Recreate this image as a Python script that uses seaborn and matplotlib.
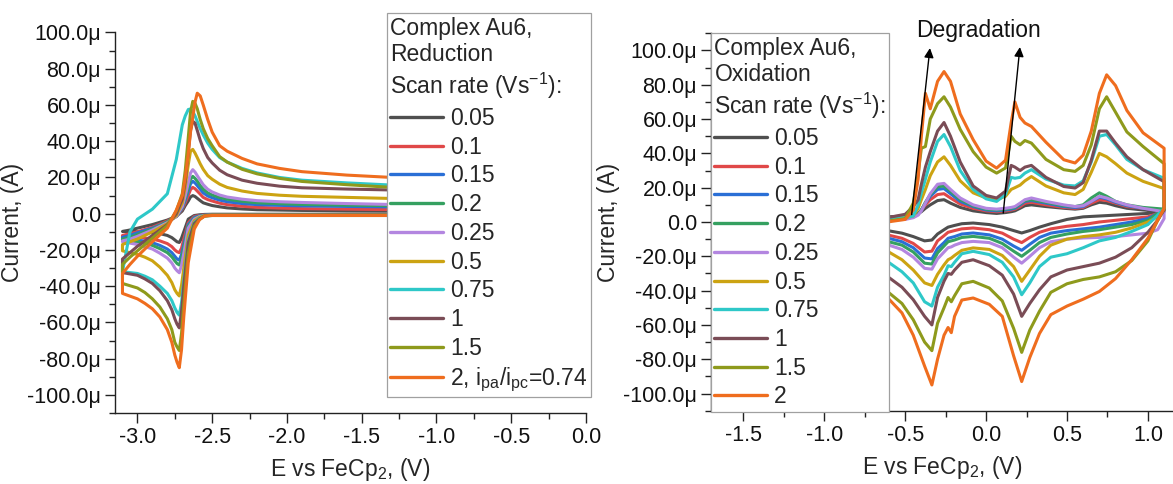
import matplotlib
matplotlib.use("Agg")
import numpy as np
import pandas as pd
import matplotlib.pyplot as plt
import seaborn as sns
from matplotlib.ticker import MultipleLocator, FuncFormatter

# Scan rates (V/s) and the colours used for both panels
rates = ["0.05", "0.1", "0.15", "0.2", "0.25", "0.5", "0.75", "1", "1.5", "2"]
colors = ["#4f4f4f", "#e04848", "#2a6fd6", "#35a060", "#b386e0",
          "#cca312", "#2ec8c8", "#7a4c56", "#8e9a1c", "#ef6d1e"]

# ---- Reduction panel: cathodic sweep (-1.25 -> -3.1 V), then anodic sweep back
red_E_cath = [-1.25, -2.4, -2.5, -2.55, -2.585, -2.62, -2.66, -2.69, -2.705, -2.72,
              -2.735, -2.75, -2.77, -2.8, -2.85, -2.9, -2.95, -3.0, -3.1]
red_I_cath = [
    [-0.3, -0.3, -0.3, -0.4, -0.6, -1.0, -3.0, -10.0, -13.5, -15.9, -15.5, -14.5, -13.2, -12.0, -11.0, -10.5, -10.2, -10.0, -9.8],
    [-0.5, -0.5, -0.5, -0.7, -1.0, -1.5, -5.0, -14.0, -19.0, -21.5, -21.0, -20.0, -18.2, -16.5, -15.0, -14.0, -13.4, -13.0, -12.5],
    [-0.6, -0.6, -0.6, -0.8, -1.2, -2.0, -6.0, -17.0, -22.5, -25.6, -25.0, -23.5, -21.5, -19.5, -17.5, -16.0, -15.2, -14.5, -13.5],
    [-0.7, -0.7, -0.7, -0.9, -1.4, -2.5, -7.0, -19.0, -25.0, -28.3, -27.5, -26.0, -23.8, -21.5, -19.3, -17.5, -16.4, -15.5, -14.5],
    [-0.8, -0.8, -0.8, -1.0, -1.6, -3.0, -8.0, -22.0, -28.5, -32.6, -31.5, -30.0, -27.2, -24.5, -21.8, -19.5, -18.2, -17.0, -15.5],
    [-0.8, -0.8, -0.8, -1.1, -2.0, -4.0, -12.0, -30.0, -39.5, -45.4, -44.0, -42.0, -38.0, -34.0, -29.5, -26.0, -24.0, -22.5, -20.5],
    [-1.0, -1.0, -1.0, -1.3, -2.5, -5.0, -15.0, -37.0, -49.0, -56.0, -54.5, -52.0, -48.0, -44.0, -40.0, -36.5, -34.5, -33.0, -32.0],
    [-0.8, -0.8, -0.8, -1.2, -2.8, -5.5, -16.0, -40.0, -54.0, -63.0, -61.0, -58.0, -53.0, -48.0, -42.5, -38.5, -36.0, -34.0, -32.5],
    [-0.9, -0.9, -0.9, -1.2, -3.2, -7.0, -22.0, -50.0, -66.0, -75.5, -73.5, -71.0, -64.0, -58.0, -51.5, -47.0, -43.5, -41.0, -38.5],
    [-1.0, -1.0, -1.0, -1.3, -3.3, -8.5, -27.0, -57.0, -75.0, -85.0, -82.0, -78.0, -71.0, -64.0, -57.0, -52.5, -49.5, -47.0, -44.0],
]
red_E_an = [-3.1, -3.05, -3.0, -2.9, -2.8, -2.74, -2.7, -2.68, -2.66, -2.645, -2.63, -2.615,
            -2.6, -2.58, -2.56, -2.53, -2.5, -2.45, -2.4, -2.3, -2.2, -2.05, -1.9, -1.6, -1.25]
red_I_an = [
    [-9.8, -9.0, -8.0, -6.0, -3.5, -1.5, 1.5, 4.5, 7.0, 9.2, 10.0, 9.5, 8.5, 7.2, 6.0, 5.2, 4.5, 3.8, 3.2, 2.6, 2.2, 2.0, 1.8, 1.6, 1.5],
    [-12.0, -11.0, -10.0, -7.5, -4.0, -1.5, 2.5, 6.0, 10.0, 13.3, 14.5, 13.8, 12.5, 10.8, 9.0, 7.8, 7.0, 5.8, 5.0, 4.1, 3.5, 3.1, 2.8, 2.5, 2.2],
    [-13.0, -12.0, -10.5, -8.0, -4.5, -1.5, 3.0, 7.5, 12.5, 16.5, 17.9, 17.0, 15.5, 13.5, 11.5, 9.8, 8.8, 7.5, 6.6, 5.6, 5.0, 4.6, 4.3, 4.0, 3.7],
    [-14.0, -13.0, -11.5, -8.5, -4.5, -1.5, 3.5, 8.5, 14.5, 19.0, 20.6, 19.5, 18.0, 15.5, 13.5, 11.5, 10.3, 8.9, 8.0, 6.8, 6.0, 5.5, 5.1, 4.7, 4.4],
    [-15.0, -14.0, -12.5, -9.0, -5.0, -1.5, 4.0, 10.0, 17.0, 22.5, 24.3, 23.0, 21.0, 18.5, 16.0, 13.5, 12.0, 10.3, 9.2, 8.0, 7.2, 6.6, 6.2, 5.6, 5.0],
    [-17.0, -15.5, -14.0, -10.0, -5.5, -1.0, 6.0, 15.0, 27.0, 34.5, 35.5, 33.5, 31.0, 27.5, 24.5, 21.0, 19.0, 16.3, 14.5, 12.5, 11.2, 10.2, 9.6, 9.0, 8.3],
    [-32.0, -10.0, -3.0, 2.5, 11.0, 30.0, 49.0, 54.0, 57.5, 57.8, 56.5, 54.0, 51.0, 47.0, 43.5, 39.0, 35.5, 31.0, 28.5, 25.0, 22.5, 20.0, 18.5, 17.0, 15.6],
    [-25.0, -21.5, -18.0, -12.0, -6.0, 0.0, 8.0, 18.0, 34.0, 46.0, 51.0, 50.0, 46.0, 40.5, 36.0, 31.0, 28.0, 24.0, 21.5, 18.5, 16.8, 15.2, 14.3, 13.6, 13.0],
    [-28.0, -24.0, -20.5, -13.5, -6.5, 1.5, 11.0, 24.0, 42.0, 56.0, 62.0, 61.0, 58.0, 52.0, 47.0, 41.5, 37.5, 31.5, 28.5, 24.5, 22.0, 19.5, 17.8, 16.0, 14.3],
    [-33.0, -28.0, -23.5, -15.5, -8.0, 2.0, 10.0, 20.0, 33.0, 45.0, 53.0, 61.5, 66.5, 65.0, 60.0, 52.0, 45.0, 37.5, 34.5, 30.5, 27.5, 25.0, 23.2, 21.3, 19.8],
]

# ---- Oxidation panel: forward sweep (-0.61 -> 1.1 V), then reverse sweep back
ox_E_fwd = [-0.61, -0.5, -0.45, -0.42, -0.4, -0.375, -0.345, -0.3, -0.26, -0.22, -0.16, -0.08,
            0.0, 0.065, 0.12, 0.155, 0.178, 0.21, 0.24, 0.28, 0.37, 0.48, 0.55, 0.6, 0.65,
            0.7, 0.745, 0.8, 0.87, 0.97, 1.1]
ox_I_fwd = [
    [3.0, 3.5, 4.0, 5.0, 6.0, 8.0, 10.0, 12.5, 13.0, 11.0, 8.5, 6.5, 5.5, 5.0, 5.5, 6.0, 6.5, 8.0, 9.5, 10.0, 9.0, 8.0, 7.5, 8.0, 10.0, 11.5, 11.0, 9.5, 8.0, 7.0, 6.0],
    [2.5, 3.0, 3.5, 5.0, 7.0, 10.0, 13.0, 16.0, 16.5, 14.0, 10.5, 8.0, 6.5, 6.0, 6.5, 7.0, 7.5, 9.0, 11.0, 11.5, 10.0, 8.5, 8.0, 8.5, 11.0, 13.0, 12.5, 11.0, 9.0, 8.0, 7.0],
    [2.0, 2.5, 3.0, 4.5, 7.0, 11.0, 15.0, 19.0, 19.5, 16.5, 12.0, 9.0, 7.0, 6.5, 7.0, 7.5, 8.0, 10.0, 12.0, 12.5, 11.0, 9.0, 8.5, 9.0, 12.0, 14.5, 13.5, 11.5, 9.5, 8.0, 7.0],
    [1.5, 2.0, 3.0, 4.5, 7.0, 11.5, 16.0, 20.5, 21.0, 18.0, 13.0, 9.5, 7.5, 7.0, 7.5, 8.0, 8.5, 10.5, 12.5, 13.0, 11.5, 9.5, 9.0, 10.0, 14.0, 17.0, 15.0, 12.0, 10.0, 8.5, 7.5],
    [1.0, 1.5, 2.5, 4.0, 6.5, 11.0, 16.5, 22.0, 22.5, 19.0, 14.0, 10.0, 8.0, 7.5, 8.0, 8.5, 9.0, 11.0, 13.0, 14.0, 12.0, 10.0, 9.0, 9.5, 12.0, 15.0, 14.0, 12.0, 10.0, 8.0, 6.0],
    [2.0, 2.5, 3.5, 8.0, 13.0, 19.0, 27.0, 35.0, 38.0, 33.0, 24.0, 17.0, 14.0, 13.0, 15.0, 19.0, 20.0, 21.5, 24.0, 26.5, 21.0, 17.0, 16.0, 19.0, 29.0, 40.0, 38.0, 34.0, 28.5, 23.7, 19.5],
    [2.0, 2.5, 3.5, 10.0, 17.0, 25.0, 35.0, 47.0, 51.0, 44.0, 30.0, 19.0, 13.5, 12.0, 16.0, 26.0, 25.5, 26.0, 28.5, 30.5, 25.0, 21.5, 21.0, 24.0, 35.0, 50.0, 51.0, 45.0, 36.5, 30.5, 25.5],
    [2.5, 4.5, 9.0, 13.0, 22.0, 32.0, 41.0, 53.0, 58.0, 50.0, 35.0, 21.0, 15.5, 14.0, 18.0, 33.0, 32.0, 30.0, 32.0, 33.0, 26.0, 20.7, 19.8, 23.0, 36.0, 53.0, 53.0, 46.0, 38.0, 30.5, 23.5],
    [0.5, 2.0, 11.0, 28.0, 43.0, 44.0, 60.0, 69.0, 73.0, 67.0, 54.0, 41.0, 32.0, 28.5, 31.5, 50.0, 47.0, 45.0, 47.5, 46.0, 36.5, 30.5, 29.5, 33.0, 45.0, 66.0, 73.0, 64.0, 52.5, 44.0, 34.0],
    [0.0, 1.5, 7.0, 25.0, 50.0, 75.0, 66.0, 82.0, 87.7, 82.0, 63.0, 48.0, 35.5, 31.4, 36.0, 58.0, 70.0, 61.0, 57.7, 55.7, 46.5, 36.3, 34.4, 39.0, 53.0, 75.0, 85.8, 79.5, 65.0, 52.0, 43.0],
]
ox_E_rev = [1.1, 1.06, 1.0, 0.9, 0.8, 0.7, 0.6, 0.5, 0.4, 0.33, 0.27, 0.22, 0.17, 0.1, 0.02,
            -0.08, -0.15, -0.195, -0.215, -0.235, -0.26, -0.3, -0.335, -0.38, -0.45, -0.52, -0.61]
ox_I_rev = [
    [6.0, 5.5, 5.0, 4.5, 4.0, 3.5, 3.0, 1.5, -1.0, -3.0, -5.0, -6.4, -5.0, -3.0, -1.5, -0.6, -1.0, -2.0, -2.5, -3.0, -4.5, -7.0, -10.5, -11.0, -8.5, -6.5, -5.0],
    [7.0, 5.0, 3.0, 2.0, 1.0, 0.0, -1.5, -2.5, -4.0, -6.0, -9.0, -12.0, -10.0, -6.5, -4.5, -3.5, -4.0, -5.0, -5.5, -6.0, -8.0, -11.0, -17.0, -17.5, -12.5, -9.5, -7.5],
    [7.5, 5.0, 2.0, 0.0, -1.5, -3.0, -4.0, -5.0, -6.5, -9.0, -13.0, -16.5, -14.0, -10.0, -7.5, -6.4, -7.0, -8.5, -9.0, -9.5, -12.0, -15.5, -21.5, -21.0, -15.0, -11.5, -9.3],
    [8.0, 5.0, 1.0, -1.5, -3.0, -4.5, -5.5, -7.0, -9.0, -12.0, -16.5, -20.0, -17.0, -12.5, -9.5, -8.4, -9.0, -10.5, -11.0, -11.5, -14.0, -18.0, -24.5, -24.0, -17.5, -13.5, -11.3],
    [2.0, -4.5, -6.5, -7.5, -8.5, -9.0, -9.3, -10.0, -11.5, -15.0, -20.0, -24.0, -20.5, -15.0, -12.0, -11.3, -12.0, -13.5, -14.5, -15.0, -17.5, -21.5, -27.5, -27.0, -20.5, -16.0, -13.2],
    [7.0, 3.0, 0.0, -3.5, -6.0, -7.5, -8.5, -10.0, -13.5, -20.0, -28.0, -34.6, -26.0, -19.5, -16.0, -15.1, -16.5, -19.5, -21.0, -22.0, -25.0, -30.5, -37.0, -35.5, -28.0, -22.0, -17.0],
    [8.0, 4.0, -1.5, -5.5, -9.0, -11.0, -15.0, -18.5, -20.5, -26.0, -35.5, -42.4, -32.0, -23.5, -19.0, -17.1, -18.5, -23.5, -26.0, -25.5, -31.0, -38.0, -49.0, -46.5, -35.5, -29.0, -23.0],
    [7.0, 1.0, -6.0, -15.0, -20.5, -24.0, -26.0, -28.0, -32.0, -39.5, -47.5, -55.0, -42.0, -31.0, -25.5, -22.0, -23.5, -28.0, -30.5, -30.0, -34.5, -44.0, -60.0, -55.0, -45.3, -38.0, -31.7],
    [8.0, 1.0, -11.0, -22.5, -29.0, -32.0, -33.5, -36.0, -41.0, -52.0, -63.0, -76.0, -62.0, -46.0, -38.5, -34.6, -36.0, -43.0, -46.5, -44.0, -50.0, -59.0, -75.0, -70.0, -57.0, -47.5, -40.5],
    [8.0, 1.0, -9.5, -22.0, -33.0, -40.5, -45.0, -49.0, -54.0, -65.0, -79.0, -93.0, -78.0, -55.0, -48.0, -44.3, -45.5, -55.0, -64.5, -61.5, -66.0, -80.0, -95.0, -84.0, -66.0, -53.0, -44.0],
]

red_labels = rates[:-1] + ["2, i$_{pa}$/i$_{pc}$=0.74"]
ox_labels = rates
red_title = "Complex Au6,\nReduction\nScan rate (Vs$^{-1}$):"
ox_title = "Complex Au6,\nOxidation\nScan rate (Vs$^{-1}$):"

W, H = 1173, 484
FS = 16.5


def build_frame(e_first, rows_first, e_second, rows_second):
    records = []
    for rate, a, b in zip(rates, rows_first, rows_second):
        assert len(a) == len(e_first) and len(b) == len(e_second), rate
        pts = list(zip(e_first, a)) + list(zip(e_second, b))
        for k, (e, i) in enumerate(pts):
            records.append({"rate": rate, "step": k, "E": e, "I": i})
    return pd.DataFrame(records)


def fmt_current(v, pos):
    if abs(v) < 1e-9:
        return "0.0"
    return f"{v:.1f}\u03bc"


def style_axes(ax, xlim, ylim):
    ax.set_xlim(*xlim)
    ax.set_ylim(*ylim)
    ax.xaxis.set_major_locator(MultipleLocator(0.5))
    ax.xaxis.set_minor_locator(MultipleLocator(0.25))
    ax.yaxis.set_major_locator(MultipleLocator(20))
    ax.yaxis.set_minor_locator(MultipleLocator(10))
    ax.xaxis.set_major_formatter(FuncFormatter(lambda v, p: f"{v:.1f}"))
    ax.yaxis.set_major_formatter(FuncFormatter(fmt_current))
    ax.tick_params(which="major", direction="out", length=7, width=1.0,
                   labelsize=15.5, pad=3, color="#222222", labelcolor="#111111")
    ax.tick_params(which="minor", direction="out", length=4, width=1.0, color="#222222")
    for side in ("left", "bottom"):
        ax.spines[side].set_linewidth(1.0)
        ax.spines[side].set_color("#222222")
    sns.despine(ax=ax)
    ax.set_xlabel("E vs FeCp$_2$, (V)", fontsize=FS, labelpad=6)
    ax.set_ylabel("Current, (A)", fontsize=FS, labelpad=2)


def add_legend(fig, ax, labels, title, x0, y0):
    leg = ax.get_legend()
    handles = leg.legend_handles
    leg.remove()
    for h in handles:
        h.set_linewidth(2.4)
    new = ax.legend(handles, labels, title=title, loc="upper left",
                    bbox_to_anchor=(x0 / W, 1 - y0 / H), bbox_transform=fig.transFigure,
                    borderaxespad=0, frameon=True, fancybox=False, framealpha=1,
                    facecolor="white", edgecolor="#a0a0a0", fontsize=FS,
                    title_fontsize=FS, handlelength=2.3, handletextpad=0.3,
                    labelspacing=0.25, borderpad=0.15, alignment="left")
    new.get_frame().set_linewidth(0.9)
    new.set_zorder(10)
    return new


sns.set_theme(style="ticks")
plt.rcParams["font.family"] = ["Liberation Sans", "DejaVu Sans"]
plt.rcParams["mathtext.default"] = "regular"

palette = dict(zip(rates, colors))
red_df = build_frame(red_E_cath, red_I_cath, red_E_an, red_I_an)
ox_df = build_frame(ox_E_fwd, ox_I_fwd, ox_E_rev, ox_I_rev)

fig = plt.figure(figsize=(W / 100, H / 100), dpi=100)
ax1 = fig.add_axes([115 / W, 1 - 413 / H, (586 - 115) / W, (413 - 32.5) / H])
ax2 = fig.add_axes([711 / W, 1 - 410.7 / H, (W - 711) / W, (410.7 - 33.3) / H])

sns.lineplot(data=red_df, x="E", y="I", hue="rate", hue_order=rates, palette=palette,
             sort=False, estimator=None, linewidth=2.2, ax=ax1)
sns.lineplot(data=ox_df, x="E", y="I", hue="rate", hue_order=rates, palette=palette,
             sort=False, estimator=None, linewidth=2.2, ax=ax2)

style_axes(ax1, (-3.15, 0.0), (-110, 100))
style_axes(ax2, (-1.70, 1.155), (-110, 110))

add_legend(fig, ax1, red_labels, red_title, 387, 13.3)
add_legend(fig, ax2, ox_labels, ox_title, 711, 33.3)

# degradation arrows on the oxidation panel
arrow_kw = dict(arrowstyle="-|>", color="black", lw=1.0, mutation_scale=14,
                shrinkA=0, shrinkB=0)
ax2.annotate("", xy=(-0.347, 101.4), xytext=(-0.46, 4.3), arrowprops=arrow_kw,
             annotation_clip=False)
ax2.annotate("", xy=(0.209, 102.0), xytext=(0.106, 5.2), arrowprops=arrow_kw,
             annotation_clip=False)
ax2.text(-0.044, 111.6, "Degradation", ha="center", va="center", fontsize=FS,
         color="#111111", clip_on=False)

fig.savefig("out.png", dpi=100)
